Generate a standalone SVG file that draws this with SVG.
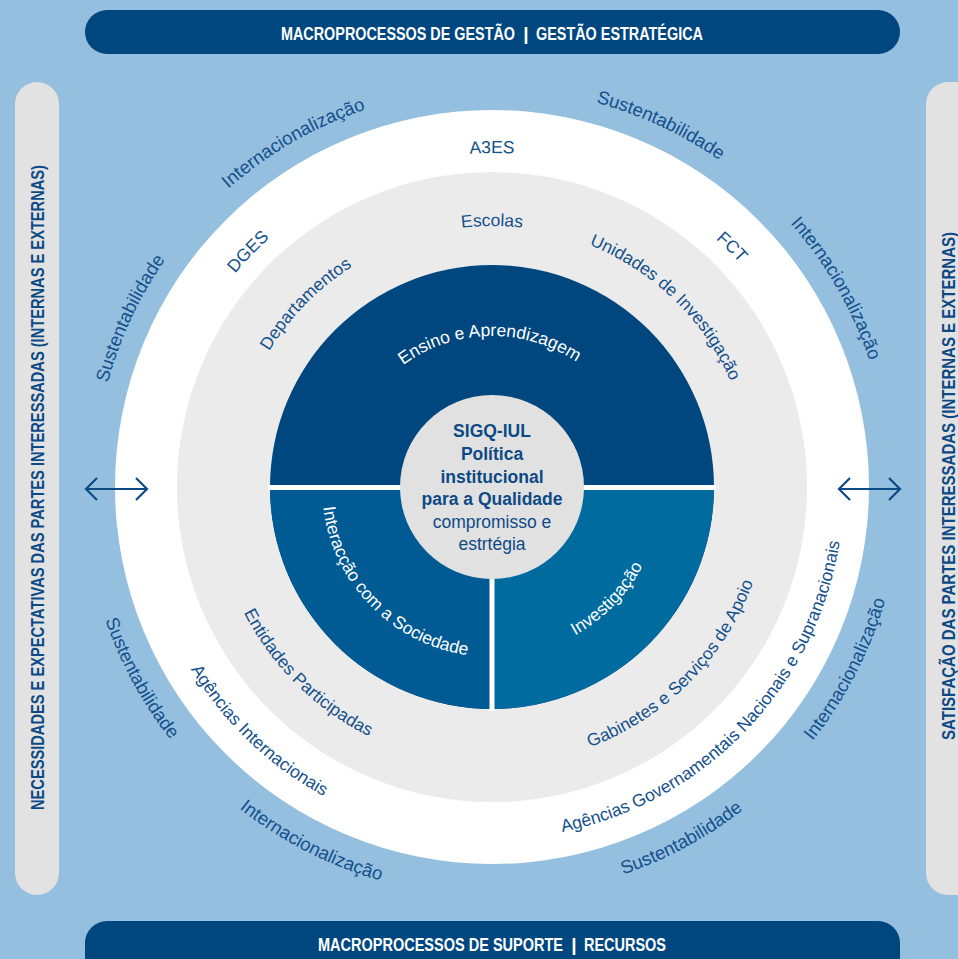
<svg xmlns="http://www.w3.org/2000/svg" xmlns:xlink="http://www.w3.org/1999/xlink" width="958" height="959" viewBox="0 0 958 959">
<style>
.bar{fill:#00477f}
.side{fill:#e2e2e2}
.bartxt{font-family:"Liberation Sans",Arial,sans-serif;font-weight:bold;font-size:19px;fill:#ffffff}
.sidetxt{font-family:"Liberation Sans",Arial,sans-serif;font-weight:bold;font-size:19px;fill:#0c4a86}
.arc{font-family:"Liberation Sans",Arial,sans-serif;font-size:17.5px;fill:#13508c}
.outer{font-size:18.5px}
.wt{fill:#ffffff}
.ctr{font-family:"Liberation Sans",Arial,sans-serif;font-size:17.5px;fill:#0d4a85;text-anchor:middle}
.b{font-weight:bold}
.arrow{stroke:#0c4a86;stroke-width:2.2;fill:none}
</style>
<defs>
<path id="cw398" d="M94 487A398 398 0 1 1 890 487A398 398 0 1 1 94 487"/>
<path id="cw334" d="M158 487A334 334 0 1 1 826 487A334 334 0 1 1 158 487"/>
<path id="cw261" d="M231 487A261 261 0 1 1 753 487A261 261 0 1 1 231 487"/>
<path id="cw151" d="M341 487A151 151 0 1 1 643 487A151 151 0 1 1 341 487"/>
<path id="ccw409" d="M83 487A409 409 0 1 0 901 487A409 409 0 1 0 83 487"/>
<path id="ccw352" d="M140 487A352 352 0 1 0 844 487A352 352 0 1 0 140 487"/>
<path id="ccw278" d="M214 487A278 278 0 1 0 770 487A278 278 0 1 0 214 487"/>
<path id="ccw170" d="M322 487A170 170 0 1 0 662 487A170 170 0 1 0 322 487"/>
</defs>
<rect x="0" y="0" width="958" height="959" fill="#94bfdf"/>

<g id="bar-top">
<rect class="bar" x="85" y="10" width="815" height="44" rx="22"/>
<text class="bartxt" x="281" y="40" textLength="234" lengthAdjust="spacingAndGlyphs">MACROPROCESSOS DE GESTÃO</text>
<text class="bartxt" x="526" y="40" text-anchor="middle">|</text>
<text class="bartxt" x="536" y="40" textLength="167" lengthAdjust="spacingAndGlyphs">GESTÃO ESTRATÉGICA</text>
</g>
<g id="bar-bottom">
<rect class="bar" x="85" y="921" width="815" height="70" rx="22"/>
<text class="bartxt" x="318" y="951" textLength="245" lengthAdjust="spacingAndGlyphs">MACROPROCESSOS DE SUPORTE</text>
<text class="bartxt" x="574" y="951" text-anchor="middle">|</text>
<text class="bartxt" x="584" y="951" textLength="82" lengthAdjust="spacingAndGlyphs">RECURSOS</text>
</g>
<g id="side-left">
<rect class="side" x="15" y="82" width="44" height="813" rx="22"/>
<text class="sidetxt" transform="translate(44,487.5) rotate(-90)" x="0" y="0" text-anchor="middle" textLength="645" lengthAdjust="spacingAndGlyphs">NECESSIDADES E EXPECTATIVAS DAS PARTES INTERESSADAS (INTERNAS E EXTERNAS)</text>
</g>
<g id="side-right">
<rect class="side" x="926" y="82" width="60" height="813" rx="22"/>
<text class="sidetxt" transform="translate(955,486) rotate(-90)" x="0" y="0" text-anchor="middle" textLength="508" lengthAdjust="spacingAndGlyphs">SATISFAÇÃO DAS PARTES INTERESSADAS (INTERNAS E EXTERNAS)</text>
</g>

<g id="ring-outer">
<circle cx="492" cy="487" r="377" fill="#ffffff"/>
</g>
<g id="ring-middle">
<circle cx="492" cy="487" r="315" fill="#ebebeb"/>
</g>
<g id="core">
<circle cx="492" cy="487" r="222" fill="#00477f"/>
<path d="M492 487L270 487A222 222 0 0 0 492 709Z" fill="#005b94"/>
<path d="M492 487L492 709A222 222 0 0 0 714 487Z" fill="#006b9f"/>
<rect x="268" y="485" width="448" height="5" fill="#ffffff"/>
<rect x="489.5" y="487" width="5" height="224" fill="#ffffff"/>
</g>
<g id="center">
<circle cx="492" cy="487" r="92" fill="#e1e1e1"/>
<text class="ctr b" x="492" y="437">SIGQ-IUL</text>
<text class="ctr b" x="492" y="460">Política</text>
<text class="ctr b" x="492" y="483">institucional</text>
<text class="ctr b" x="492" y="505">para a Qualidade</text>
<text class="ctr" x="492" y="528">compromisso e</text>
<text class="ctr" x="492" y="550">estrtégia</text>
</g>

<g id="labels-outer">
<text class="arc outer" text-anchor="middle"><textPath xlink:href="#cw398" href="#cw398" startOffset="6.94%">Sustentabilidade</textPath></text>
<text class="arc outer" text-anchor="middle"><textPath xlink:href="#cw398" href="#cw398" startOffset="16.67%">Internacionalização</textPath></text>
<text class="arc outer" text-anchor="middle"><textPath xlink:href="#cw398" href="#cw398" startOffset="31.94%">Sustentabilidade</textPath></text>
<text class="arc outer" text-anchor="middle"><textPath xlink:href="#cw398" href="#cw398" startOffset="41.67%">Internacionalização</textPath></text>
<text class="arc outer" text-anchor="middle"><textPath xlink:href="#ccw409" href="#ccw409" startOffset="7.94%">Sustentabilidade</textPath></text>
<text class="arc outer" text-anchor="middle"><textPath xlink:href="#ccw409" href="#ccw409" startOffset="17.5%">Internacionalização</textPath></text>
<text class="arc outer" text-anchor="middle"><textPath xlink:href="#ccw409" href="#ccw409" startOffset="32.86%">Sustentabilidade</textPath></text>
<text class="arc outer" text-anchor="middle"><textPath xlink:href="#ccw409" href="#ccw409" startOffset="42.44%">Internacionalização</textPath></text>
</g>
<g id="labels-white-ring">
<text class="arc" text-anchor="middle"><textPath xlink:href="#cw334" href="#cw334" startOffset="12.22%">DGES</textPath></text>
<text class="arc" text-anchor="middle"><textPath xlink:href="#cw334" href="#cw334" startOffset="25%">A3ES</textPath></text>
<text class="arc" text-anchor="middle"><textPath xlink:href="#cw334" href="#cw334" startOffset="37.5%">FCT</textPath></text>
<text class="arc" text-anchor="middle"><textPath xlink:href="#ccw352" href="#ccw352" startOffset="12.86%">Agências Internacionais</textPath></text>
<text class="arc" text-anchor="middle"><textPath xlink:href="#ccw352" href="#ccw352" startOffset="37.86%">Agências Governamentais Nacionais e Supranacionais</textPath></text>
</g>
<g id="labels-gray-ring">
<text class="arc" text-anchor="middle"><textPath xlink:href="#cw261" href="#cw261" startOffset="12.36%">Departamentos</textPath></text>
<text class="arc" text-anchor="middle"><textPath xlink:href="#cw261" href="#cw261" startOffset="25%">Escolas</textPath></text>
<text class="arc" text-anchor="middle"><textPath xlink:href="#cw261" href="#cw261" startOffset="37.22%">Unidades de Investigação</textPath></text>
<text class="arc" text-anchor="middle"><textPath xlink:href="#ccw278" href="#ccw278" startOffset="12.58%">Entidades Participadas</textPath></text>
<text class="arc" text-anchor="middle"><textPath xlink:href="#ccw278" href="#ccw278" startOffset="37.58%">Gabinetes e Serviços de Apoio</textPath></text>
</g>
<g id="labels-core">
<text class="arc wt" text-anchor="middle"><textPath xlink:href="#cw151" href="#cw151" startOffset="24.72%">Ensino e Aprendizagem</textPath></text>
<text class="arc wt" text-anchor="middle"><textPath xlink:href="#ccw170" href="#ccw170" startOffset="12.28%">Interacção com a Sociedade</textPath></text>
<text class="arc wt" text-anchor="middle"><textPath xlink:href="#ccw170" href="#ccw170" startOffset="37.72%">Investigação</textPath></text>
</g>

<g id="connectors">
<g class="arrow">
<path d="M86 489H147"/>
<path d="M97 478L86 489L97 500"/>
<path d="M136 478L147 489L136 500"/>
</g>
<g class="arrow">
<path d="M839 489H900"/>
<path d="M850 478L839 489L850 500"/>
<path d="M889 478L900 489L889 500"/>
</g>
</g>
</svg>
